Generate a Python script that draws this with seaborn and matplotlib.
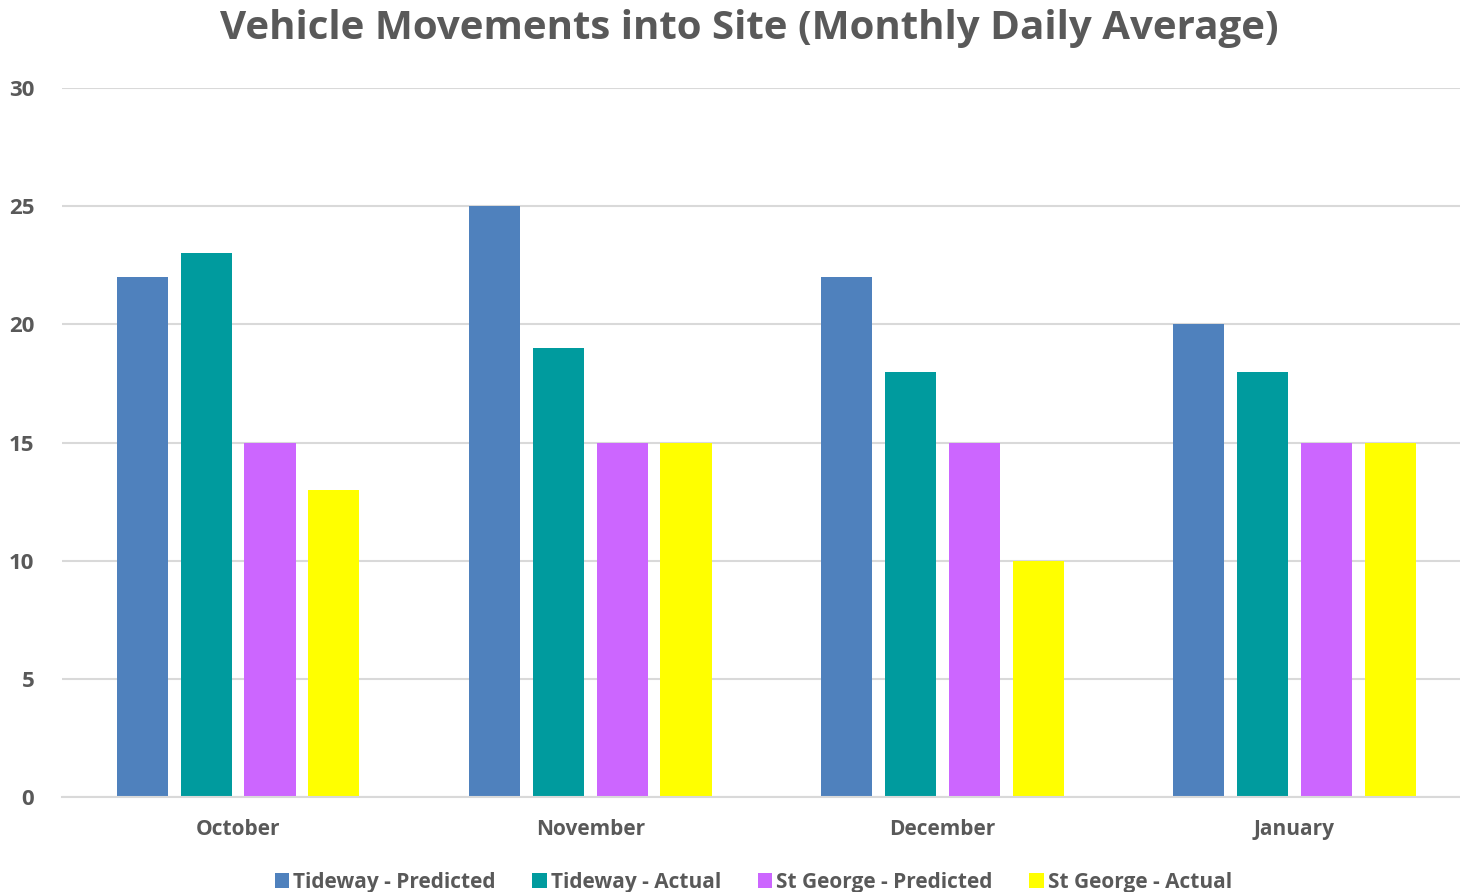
import pandas as pd
import seaborn as sns
import matplotlib.pyplot as plt

# data
months = ["October", "November", "December", "January"]
tideway_predicted = [22, 25, 22, 20]
tideway_actual = [23, 19, 18, 18]
stgeorge_predicted = [15, 15, 15, 15]
stgeorge_actual = [13, 15, 10, 15]
series_names = ["Tideway - Predicted", "Tideway - Actual",
                "St George - Predicted", "St George - Actual"]
colors = ["#4F81BD", "#009B9E", "#CC66FF", "#FFFF00"]

# long format for seaborn
rows = []
for name, vals in zip(series_names,
                      [tideway_predicted, tideway_actual, stgeorge_predicted, stgeorge_actual]):
    for m, v in zip(months, vals):
        rows.append({"month": m, "series": name, "value": v})
df = pd.DataFrame(rows)

sns.set_style("white")
plt.rcParams['font.family'] = ['Open Sans', 'DejaVu Sans']
text_color = "#595959"

fig = plt.figure(figsize=(14.6, 8.92), dpi=100)
ax = fig.add_axes([0.0425, 0.1065, 0.9575, 0.7948])

sns.barplot(data=df, x="month", y="value", hue="series", order=months,
            hue_order=series_names, palette=colors, width=0.725, gap=0.2,
            saturation=1, linewidth=0, ax=ax, legend=True)

ax.set_ylim(0, 30)
ax.set_xlim(-0.5, 3.47)
ax.set_yticks(range(0, 31, 5))
ax.yaxis.grid(True, color="#D9D9D9", linewidth=1.5)
ax.set_axisbelow(True)
for s in ["top", "right", "left"]:
    ax.spines[s].set_visible(False)
ax.spines["bottom"].set_color("#D9D9D9")
ax.spines["bottom"].set_linewidth(1.5)
ax.tick_params(axis="x", length=0, labelsize=15, colors=text_color, pad=16)
ax.tick_params(axis="y", length=0, labelsize=16, colors=text_color, pad=20)
for lab in ax.get_xticklabels() + ax.get_yticklabels():
    lab.set_fontweight("bold")
ax.set_xlabel("")
ax.set_ylabel("")

fig.text(0.513, 0.968, "Vehicle Movements into Site (Monthly Daily Average)",
         ha="center", va="center", fontsize=29, fontweight="bold", color=text_color)

handles, labels = ax.get_legend_handles_labels()
ax.get_legend().remove()
fig.legend(handles, labels, loc="center", bbox_to_anchor=(0.516, 0.011), ncol=4,
           frameon=False, handlelength=0.7, handleheight=0.7, handletextpad=0.2,
           columnspacing=1.75, borderpad=0, prop={"size": 15, "weight": "bold"},
           labelcolor=text_color)

fig.savefig("out.png", dpi=100)
